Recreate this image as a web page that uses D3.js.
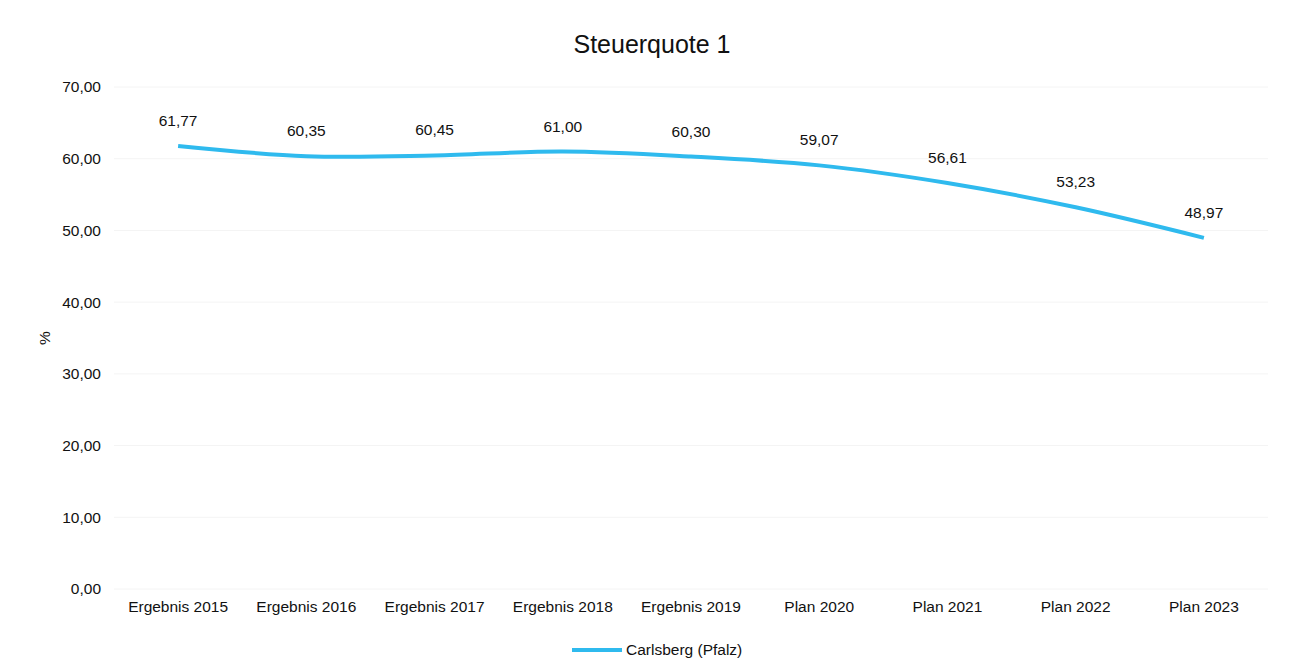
<!DOCTYPE html>
<html><head><meta charset="utf-8">
<script src="https://cdn.jsdelivr.net/npm/d3@7"></script>
<style>body{margin:0;background:#fff;}svg{display:block;font-family:"Liberation Sans",Arial,sans-serif;}</style>
</head><body>
<svg id="c" width="1292" height="672"></svg>
<script>
const categories = ["Ergebnis 2015","Ergebnis 2016","Ergebnis 2017","Ergebnis 2018","Ergebnis 2019","Plan 2020","Plan 2021","Plan 2022","Plan 2023"];
const values = [61.77, 60.35, 60.45, 61.00, 60.30, 59.07, 56.61, 53.23, 48.97];
const yTicks = [0,10,20,30,40,50,60,70];
const seriesName = "Carlsberg (Pfalz)";
const title = "Steuerquote 1";

(function(){
const svg = d3.select("#c");
const pLeft = 114, pRight = 1268, pTop = 87, pBottom = 589;
const fs = 15.5;
const x = d3.scaleBand().domain(categories).range([pLeft, pRight]);
const y = d3.scaleLinear().domain([0,70]).range([pBottom, pTop]);
const fmt = v => v.toFixed(2).replace(".", ",");
const color = "#2fbaee";

svg.append("g").selectAll("line").data(yTicks).join("line")
  .attr("x1", pLeft).attr("x2", pRight)
  .attr("y1", d=>y(d)).attr("y2", d=>y(d))
  .attr("stroke", "#f4f4f4").attr("stroke-width", 1);

const yAxis = d3.axisLeft(y).tickValues(yTicks).tickFormat(fmt).tickSize(0).tickPadding(13);
svg.append("g").attr("transform", `translate(${pLeft},0)`).call(yAxis)
  .call(g=>g.select(".domain").remove())
  .call(g=>g.selectAll("text").attr("font-size", fs).attr("fill", "#111").attr("font-family","Liberation Sans, Arial, sans-serif"));

const xAxis = d3.axisBottom(x).tickSize(0).tickPadding(12);
svg.append("g").attr("transform", `translate(0,${pBottom})`).call(xAxis)
  .call(g=>g.select(".domain").remove())
  .call(g=>g.selectAll("text").attr("font-size", fs).attr("fill", "#111").attr("font-family","Liberation Sans, Arial, sans-serif"));

const cx = d => x(d) + x.bandwidth()/2;
const line = d3.line().x((d,i)=>cx(categories[i])).y(d=>y(d)).curve(d3.curveCatmullRom.alpha(0.5));
svg.append("path").datum(values).attr("d", line)
  .attr("fill", "none").attr("stroke", color).attr("stroke-width", 4).attr("stroke-linecap","butt");

svg.append("g").selectAll("text").data(values).join("text")
  .attr("x", (d,i)=>cx(categories[i])).attr("y", d=>y(d)-20)
  .attr("text-anchor", "middle").attr("font-size", fs).attr("fill", "#111")
  .text(fmt);

svg.append("text").attr("x", 652).attr("y", 53).attr("text-anchor","middle")
  .attr("font-size", 25).attr("fill", "#111").text(title);

svg.append("text").attr("transform", "translate(50,338) rotate(-90)")
  .attr("text-anchor","middle").attr("font-size", fs).attr("fill","#111").text("%");

svg.append("line").attr("x1", 572).attr("x2", 622).attr("y1", 650).attr("y2", 650)
  .attr("stroke", color).attr("stroke-width", 4);
svg.append("text").attr("x", 626).attr("y", 655).attr("font-size", fs).attr("fill","#111").text(seriesName);
})();
</script>
</body></html>
